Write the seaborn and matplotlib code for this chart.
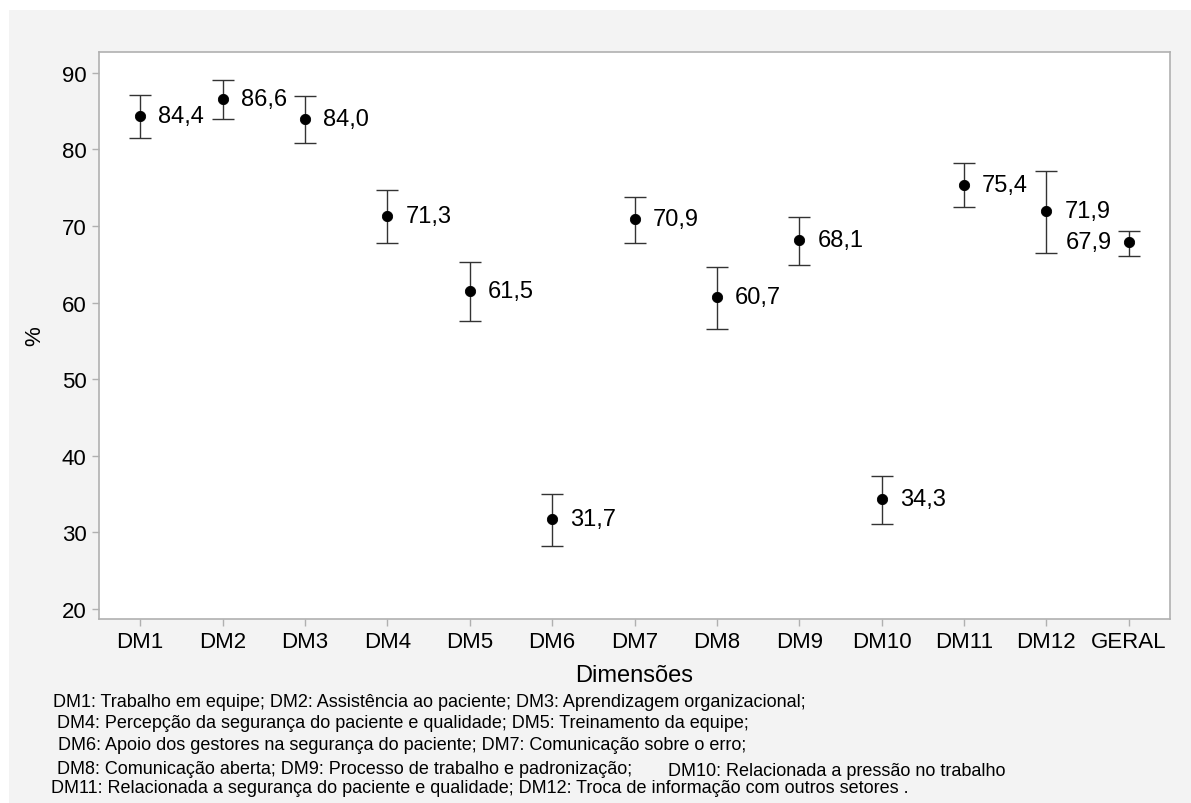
import matplotlib
matplotlib.use("Agg")
import matplotlib.pyplot as plt
from matplotlib.patches import Rectangle
import seaborn as sns
import pandas as pd

# dados
dimensoes = ["DM1", "DM2", "DM3", "DM4", "DM5", "DM6", "DM7",
             "DM8", "DM9", "DM10", "DM11", "DM12", "GERAL"]
percentual = [84.4, 86.6, 84.0, 71.3, 61.5, 31.7, 70.9,
              60.7, 68.1, 34.3, 75.4, 71.9, 67.9]
limite_inf = [81.5, 84.0, 80.8, 67.8, 57.6, 28.2, 67.8,
              56.6, 64.9, 31.1, 72.5, 66.5, 66.1]
limite_sup = [87.1, 89.1, 87.0, 74.7, 65.3, 35.0, 73.8,
              64.6, 71.2, 37.3, 78.2, 77.2, 69.4]
rotulos = ["84,4", "86,6", "84,0", "71,3", "61,5", "31,7", "70,9",
           "60,7", "68,1", "34,3", "75,4", "71,9", "67,9"]

legenda = [
    "DM1: Trabalho em equipe; DM2: Assistência ao paciente; DM3: Aprendizagem organizacional;",
    "DM4: Percepção da segurança do paciente e qualidade; DM5: Treinamento da equipe;",
    "DM6: Apoio dos gestores na segurança do paciente; DM7: Comunicação sobre o erro;",
    "DM8: Comunicação aberta; DM9: Processo de trabalho e padronização;",
    "DM11: Relacionada a segurança do paciente e qualidade; DM12: Troca de informação com outros setores .",
]
legenda_dm10 = "DM10: Relacionada a pressão no trabalho"

df = pd.DataFrame({"Dimensao": dimensoes, "Pct": percentual,
                   "Inf": limite_inf, "Sup": limite_sup})

sns.set_style("white")
plt.rcParams['font.family'] = ['Liberation Sans', 'DejaVu Sans']
plt.rcParams['text.color'] = 'black'
plt.rcParams['axes.labelcolor'] = 'black'
plt.rcParams['xtick.labelcolor'] = 'black'
plt.rcParams['ytick.labelcolor'] = 'black'

fig = plt.figure(figsize=(11.91, 8.04), dpi=100, facecolor="white")
fig.patches.append(Rectangle((9 / 1191, 0), 1, (804 - 11) / 804,
                             transform=fig.transFigure, facecolor="#f3f3f3",
                             edgecolor="none", zorder=-10))
ax = fig.add_axes([99 / 1191, 184 / 804, 1071 / 1191, 567 / 804])
ax.set_facecolor("white")

erros = [df["Pct"] - df["Inf"], df["Sup"] - df["Pct"]]
ax.errorbar(df["Dimensao"], df["Pct"], yerr=erros, fmt="none",
            ecolor="#333333", elinewidth=1, capsize=8, capthick=1, zorder=2)
sns.scatterplot(data=df, x="Dimensao", y="Pct", color="black", s=55,
                edgecolor="black", zorder=3, ax=ax)

for i, (v, r) in enumerate(zip(percentual, rotulos)):
    if dimensoes[i] == "GERAL":
        ax.annotate(r, (i, v), xytext=(-12, 0), textcoords="offset points",
                    ha="right", va="center", fontsize=17)
    else:
        ax.annotate(r, (i, v), xytext=(13, 0), textcoords="offset points",
                    ha="left", va="center", fontsize=17)

ax.set_xlim(-0.5, 12.5)
ax.set_ylim(18.7, 92.7)
ax.set_yticks([20, 30, 40, 50, 60, 70, 80, 90])
ax.tick_params(axis="both", labelsize=16, length=5, width=1, color="#b0b0b0",
               direction="out", pad=4, bottom=True, left=True)
for s in ax.spines.values():
    s.set_color("#b0b0b0")
    s.set_linewidth(1.2)

ax.set_xlabel("Dimensões", fontsize=17, labelpad=8)
ax.set_ylabel("%", fontsize=16, labelpad=12)

linhas_y = [703, 724, 746, 770, 789]
linhas_x = [53, 57, 58, 57, 51]
for t, y, x in zip(legenda, linhas_y, linhas_x):
    fig.text(x / 1191, 1 - y / 804, t, fontsize=13,
             ha="left", va="center")
fig.text(668 / 1191, 1 - 772 / 804, legenda_dm10, fontsize=13,
         ha="left", va="center")

plt.savefig("out.png", dpi=100, facecolor=fig.get_facecolor())
